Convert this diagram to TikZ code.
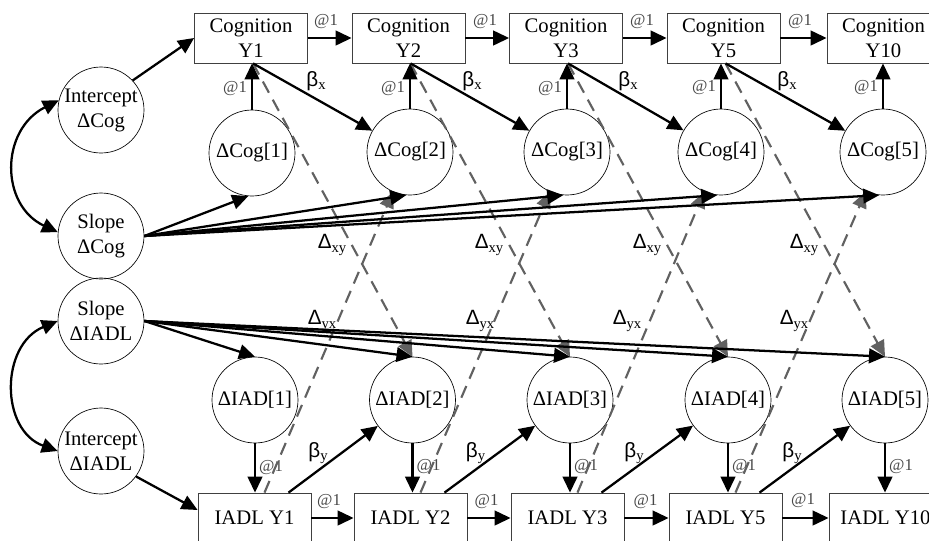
\documentclass[tikz,border=0pt]{standalone}
\usepackage{fontspec}
\setmainfont{Liberation Serif}
\newfontfamily\grk{Liberation Sans}
\usetikzlibrary{arrows.meta,calc}
\newcommand\gsub[2]{{\grk #1}\raisebox{-2.5pt}{\fontsize{11}{11}\selectfont #2}}
\begin{document}
\begin{tikzpicture}[x=0.75pt,y=-0.75pt,
  every node/.style={font=\fontsize{15.5}{18.75}\selectfont},
  lat/.style={circle,draw,line width=0.5pt,minimum size=64.5pt,inner sep=0pt,align=center},
  obs/.style={rectangle,draw=black!75,line width=0.6pt,minimum width=84.75pt,minimum height=37.5pt,inner sep=0pt,align=center},
  arr/.style={line width=1.7pt,-{Triangle[length=12pt,width=11pt]}},
  darr/.style={line width=1.7pt,{Triangle[length=12pt,width=11pt]}-{Triangle[length=12pt,width=11pt]}},
  dsh/.style={line width=1.6pt,draw=black!62,dash pattern=on 9.5pt off 6pt,-{Triangle[length=12pt,width=11pt,fill=black!62]}},
  atl/.style={font=\fontsize{12.5}{12.5}\selectfont,text=black!72,inner sep=0pt},
  gl/.style={inner sep=0pt}
]
\useasboundingbox (0,0) rectangle (929,540);
\fill[white] (0,0) rectangle (929,540);
\clip (0,0) rectangle (929,540);

% observed variables
\node[obs] (c1) at (251,38)   {Cognition\\Y1};
\node[obs] (c2) at (408.5,38) {Cognition\\Y2};
\node[obs] (c3) at (566,38)   {Cognition\\Y3};
\node[obs] (c4) at (723.5,38) {Cognition\\Y5};
\node[obs] (c5) at (883.5,38) {Cognition\\Y10};
\node[obs] (i1) at (254.5,518) {IADL Y1};
\node[obs] (i2) at (410.5,518) {IADL Y2};
\node[obs] (i3) at (567.5,518) {IADL Y3};
\node[obs] (i4) at (725.5,518) {IADL Y5};
\node[obs] (i5) at (885.5,518) {IADL Y10};

% latent change scores
\node[lat] (dc1) at (252,153) {ΔCog[1]};
\node[lat] (dc2) at (410,152) {ΔCog[2]};
\node[lat] (dc3) at (567,152) {ΔCog[3]};
\node[lat] (dc4) at (721,152) {ΔCog[4]};
\node[lat] (dc5) at (883,152) {ΔCog[5]};
\node[lat] (di1) at (255,400)   {ΔIAD[1]};
\node[lat] (di2) at (412.5,400) {ΔIAD[2]};
\node[lat] (di3) at (570,400)   {ΔIAD[3]};
\node[lat] (di4) at (728,400)   {ΔIAD[4]};
\node[lat] (di5) at (885,400)   {ΔIAD[5]};

% growth factors
\node[lat] (ic) at (101,110) {Intercept\\ΔCog};
\node[lat] (sc) at (101,236) {Slope\\ΔCog};
\node[lat] (si) at (101,321) {Slope\\ΔIADL};
\node[lat] (ii) at (101,451) {Intercept\\ΔIADL};

% coupling (dashed)
\foreach \k/\n in {1/2,2/3,3/4,4/5}{
  \draw[dsh] ($(c\k.south)+(2,0)$) -- (di\n.north);
  \draw[dsh] ($(i\k.north)+(10,0)$) -- (dc\n);
}

% covariances
\draw[darr] (ic.167) .. controls (0,130) and (0,205) .. (sc.175);
\draw[darr] (si.west) .. controls (0,345) and (0,430) .. (ii.west);

% intercepts
\draw[arr] (ic.43) -- (c1.west);
\draw[arr] (ii.-36) -- (i1.172);

% slopes
\foreach \k in {1,...,5}{
  \draw[arr] (sc.east) -- (dc\k.265);
  \draw[arr] (si.east) -- (di\k.north);
}

% change to level, level to level, proportional effects
\foreach \k in {1,...,5}{
  \draw[arr] (dc\k.north) -- (dc\k.north |- c\k.south);
  \draw[arr] (di\k.south) -- (di\k.south |- i\k.north);
}
\foreach \k/\n in {1/2,2/3,3/4,4/5}{
  \draw[arr] (c\k.east) -- (c\n.west);
  \draw[arr] (i\k.east) -- (i\n.west);
  \draw[arr] ($(c\k.south)+(2,0)$) -- (dc\n);
  \draw[arr] ($(i\k.north)+(34,0)$) -- (di\n);
}

% labels
\foreach \px/\py [count=\j] in {326/22,485/22,642/22,800/22}
  \node[atl] (ht\j) at (\px,\py) {@1};
\foreach \px/\py [count=\j] in {329/502,486.5/502,645.5/502,803/501}
  \node[atl] (hb\j) at (\px,\py) {@1};
\foreach \px/\py [count=\j] in {235/89,393/89,550/89,704/88,866/88}
  \node[atl] (vt\j) at (\px,\py) {@1};
\foreach \px/\py [count=\j] in {271/468,428.5/467,586/467,744/467,901/467}
  \node[atl] (vb\j) at (\px,\py) {@1};
\foreach \px [count=\j] in {316,472,628,787}
  \node[gl] (bx\j) at (\px,81) {\gsub{β}{x}};
\foreach \px [count=\j] in {318,475.5,634,792}
  \node[gl] (by\j) at (\px,453) {\gsub{β}{y}};
\foreach \px [count=\j] in {332,489,647,804}
  \node[gl] (dxy\j) at (\px,245) {\gsub{Δ}{xy}};
\foreach \px [count=\j] in {322,480,627,794}
  \node[gl] (dyx\j) at (\px,321) {\gsub{Δ}{yx}};
\end{tikzpicture}
\end{document}
